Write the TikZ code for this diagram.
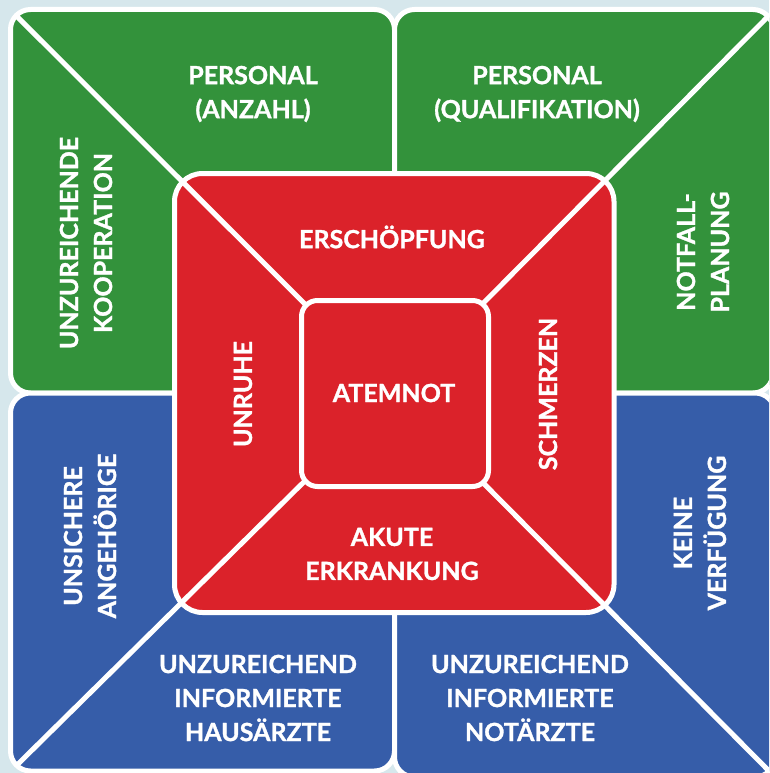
\documentclass[tikz,border=0pt]{standalone}
\usepackage{fontspec}
\setmainfont{Lato}[BoldFeatures={FakeBold=1.2}]
\definecolor{qgreen}{HTML}{33923B}
\definecolor{qblue}{HTML}{365DA9}
\definecolor{qred}{HTML}{DB222A}
\definecolor{qbg}{HTML}{D6E7EC}
\begin{document}
\begin{tikzpicture}[x=1pt,y=-1pt,
  quad/.style={draw=white,line width=5pt,rounded corners=20pt},
  diag/.style={draw=white,line width=5pt},
  lbl/.style={text=white,font=\fontsize{25}{34}\selectfont\bfseries,align=center,inner sep=0pt}]
\clip (0,0) rectangle (769,773);
\fill[qbg] (0,0) rectangle (769,773);
% quadrants
\path[quad,fill=qgreen] (10.5,9.5) rectangle (394.5,393);
\path[quad,fill=qgreen] (394.5,9.5) rectangle (773,393);
\path[quad,fill=qblue] (10.5,393) rectangle (394.5,771);
\path[quad,fill=qblue] (394.5,393) rectangle (775,777);
% red square
\path[draw=white,line width=5pt,fill=qred,rounded corners=28pt] (174.5,173.5) rectangle (614,612.5);
% diagonals
\coordinate (c) at (394,393);
\coordinate (ctl) at (16.5,16);
\coordinate (ctr) at (767.5,17);
\coordinate (cbl) at (17,765);
\coordinate (cbr) at (769,771);
\draw[diag] (ctl) -- (c);
\draw[diag] (ctr) -- (c);
\draw[diag] (cbl) -- (c);
\draw[diag] (cbr) -- (c);
% inner square
\path[draw=white,line width=5pt,fill=qred,rounded corners=16pt] (301.5,300.5) rectangle (488.5,486.5);
% labels
\node[lbl] (pa) at (253,94) {PERSONAL\\(ANZAHL)};
\node[lbl] (pq) at (537,94) {PERSONAL\\(QUALIFIKATION)};
\node[lbl,rotate=90] (uk) at (86,243) {UNZUREICHENDE\\KOOPERATION};
\node[lbl,rotate=90] (np) at (703,252) {NOTFALL-\\PLANUNG};
\node[lbl,rotate=90] (ua) at (90,536) {UNSICHERE\\ANGEHÖRIGE};
\node[lbl,rotate=90] (kv) at (700,533) {KEINE\\VERFÜGUNG};
\node[lbl] (uh) at (258,698) {UNZUREICHEND\\INFORMIERTE\\HAUSÄRZTE};
\node[lbl] (un) at (530,698) {UNZUREICHEND\\INFORMIERTE\\NOTÄRZTE};
\node[lbl] (er) at (392,237) {ERSCHÖPFUNG};
\node[lbl,rotate=90] (ur) at (243,394) {UNRUHE};
\node[lbl,rotate=90] (sz) at (548,394) {SCHMERZEN};
\node[lbl] (at) at (394,393) {ATEMNOT};
\node[lbl] (ak) at (392,554) {AKUTE\\ERKRANKUNG};
\end{tikzpicture}
\end{document}
